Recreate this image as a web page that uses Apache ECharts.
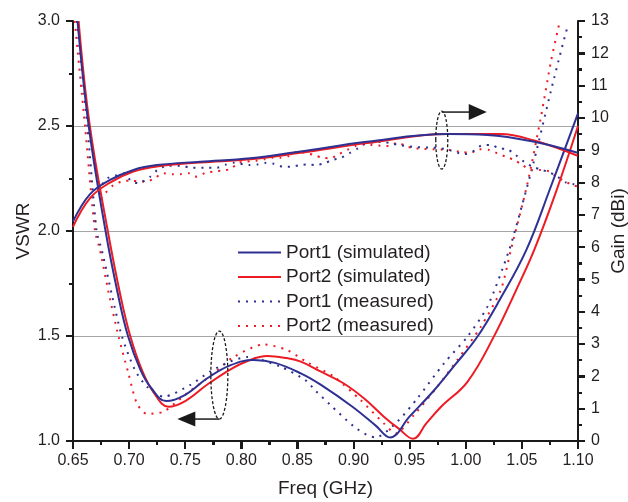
<!DOCTYPE html>
<html><head><meta charset="utf-8">
<script src="https://cdn.jsdelivr.net/npm/echarts@6/dist/echarts.min.js"></script>
<style>html,body{margin:0;padding:0;background:#fff}#c{width:628px;height:502px}</style>
</head><body><div id="c"></div>
<script>
// ---- tick labels / axis settings ----
const xTickStep = 0.05, vswrTickStep = 0.5, gainTickStep = 1;
const seriesNames = ['Port1 (simulated)','Port2 (simulated)','Port1 (measured)','Port2 (measured)'];

// ---- VSWR (left axis) ----
const p1SimVswrF = [0.654,0.664,0.679,0.690,0.699,0.710,0.720,0.733,0.750,0.770,0.790,0.811,0.830,0.853,0.871,0.899,0.920,0.9325,0.950,0.972,0.990,1.010,1.030,1.054,1.075,1.100];
const p1SimVswr  = [3.00,2.50,2.00,1.70,1.50,1.34,1.25,1.19,1.22,1.30,1.36,1.386,1.372,1.322,1.267,1.163,1.072,1.017,1.117,1.243,1.36,1.494,1.67,1.91,2.20,2.56];

const p2SimVswrF = [0.655,0.665,0.681,0.692,0.701,0.712,0.722,0.735,0.750,0.770,0.790,0.805,0.823,0.840,0.853,0.871,0.891,0.910,0.927,0.940,0.953,0.965,0.978,1.0015,1.025,1.045,1.061,1.080,1.100];
const p2SimVswr  = [3.00,2.50,2.00,1.70,1.50,1.33,1.23,1.163,1.19,1.27,1.34,1.38,1.405,1.395,1.378,1.33,1.275,1.20,1.116,1.06,1.011,1.085,1.163,1.282,1.497,1.72,1.91,2.18,2.50];

const p1MeasVswrF = [0.6535,0.6628,0.671,0.6756,0.6845,0.6935,0.705,0.7158,0.7307,0.7545,0.772,0.790,0.805,0.8348,0.857,0.866,0.8795,0.900,0.912,0.9196,0.939,0.9568,0.9806,1.0015,1.0193,1.0387,1.050,1.061,1.076,1.085,1.091];
const p1MeasVswr  = [3.00,2.50,2.00,1.91,1.70,1.50,1.34,1.259,1.211,1.267,1.33,1.378,1.40,1.354,1.29,1.24,1.171,1.07,1.029,1.017,1.092,1.203,1.37,1.497,1.64,1.91,2.12,2.338,2.67,2.86,2.98];

const p2MeasVswrF = [0.6515,0.6607,0.6696,0.674,0.682,0.6905,0.6994,0.7069,0.7158,0.7307,0.7515,0.7753,0.7931,0.820,0.8408,0.8586,0.8825,0.9062,0.927,0.9375,0.9538,0.9747,0.9925,1.0134,1.0312,1.0402,1.055,1.067,1.076,1.082,1.0835];
const p2MeasVswr  = [3.00,2.50,2.00,1.91,1.70,1.50,1.322,1.179,1.129,1.14,1.227,1.322,1.40,1.46,1.433,1.375,1.306,1.195,1.084,1.036,1.124,1.259,1.386,1.544,1.719,1.91,2.227,2.544,2.81,2.957,2.99];

// ---- Gain (right axis, dBi) ----
const p1SimGainF = [0.650,0.6652,0.683,0.7038,0.7247,0.7634,0.808,0.8527,0.912,0.9836,1.0193,1.061,1.0997];
const p1SimGain  = [6.79,7.64,8.08,8.39,8.54,8.645,8.75,8.96,9.26,9.50,9.47,9.26,8.92];

const p2SimGainF = [0.650,0.6652,0.683,0.7038,0.7247,0.7634,0.808,0.8527,0.912,0.9836,1.031,1.061,1.0997];
const p2SimGain  = [6.63,7.52,8.00,8.34,8.50,8.62,8.72,8.92,9.22,9.50,9.50,9.30,8.83];

const p1MeasGainF = [0.672,0.6756,0.6806,0.6875,0.6949,0.7024,0.7083,0.7188,0.7253,0.7337,0.7471,0.7545,0.7694,0.7783,0.7857,0.7931,0.8072,0.8146,0.8221,0.8295,0.8369,0.8444,0.8518,0.8592,0.8667,0.8741,0.8816,0.8891,0.8965,0.9039,0.9108,0.9257,0.9337,0.9405,0.955,0.970,0.9777,0.985,0.9926,0.9985,1.006,1.015,1.0223,1.0298,1.0372,1.0446,1.052,1.0595,1.067,1.0743,1.0817,1.0893,1.0967];
const p1MeasGain  = [7.75,7.92,8.13,8.21,8.29,8.03,7.98,8.18,8.39,8.52,8.52,8.46,8.46,8.46,8.55,8.61,8.54,8.56,8.61,8.58,8.49,8.49,8.54,8.56,8.54,8.60,8.70,8.77,8.91,9.06,9.21,9.26,9.21,9.16,9.10,9.08,9.06,9.01,8.92,8.88,8.95,9.16,9.16,9.06,9.03,8.85,8.64,8.49,8.40,8.32,8.18,8.00,7.95];

const p2MeasGainF = [0.675,0.6786,0.686,0.6935,0.7009,0.7098,0.7158,0.7232,0.7306,0.7381,0.7455,0.753,0.7604,0.7679,0.7753,0.7828,0.7902,0.7976,0.8051,0.8125,0.820,0.8274,0.8349,0.8423,0.8498,0.8572,0.8646,0.8721,0.8795,0.8869,0.8944,0.9018,0.9092,0.9167,0.9241,0.9316,0.9391,0.948,0.9554,0.9628,0.9703,0.985,0.995,1.0045,1.0119,1.0209,1.0283,1.0357,1.0432,1.0506,1.058,1.067,1.0744,1.082,1.089,1.095,1.100];
const p2MeasGain  = [7.50,7.67,7.92,8.03,8.06,8.03,8.03,8.15,8.29,8.26,8.26,8.29,8.18,8.30,8.34,8.37,8.42,8.61,8.65,8.67,8.72,8.77,8.77,8.82,8.95,8.92,8.85,8.77,8.75,8.88,9.01,9.13,9.18,9.16,9.14,9.13,9.23,9.11,9.06,9.04,9.03,9.01,8.95,8.92,9.03,9.01,8.90,8.80,8.70,8.54,8.39,8.39,8.34,8.15,8.03,7.92,7.88];

const zip = (f, v) => f.map((x, i) => [x, v[i]]);
const BLUE = '#2E3192', RED = '#ED1C24', INK = '#1a1a1a', TXT = '#231f20';
const FONT = 'Liberation Sans, Arial, Helvetica, sans-serif';
const dotted = [2, 6];
const X_MIN = 0.65, X_MAX = 1.10, V_MIN = 1.0, V_MAX = 3.0, G_MIN = 0, G_MAX = 13;

function line(name, color, data, yIdx, isDotted) {
  return {
    name, type: 'line', yAxisIndex: yIdx, data,
    symbol: 'none', showSymbol: false,
    smooth: isDotted ? 0.25 : 0.4,
    lineStyle: { color, width: 2, type: isDotted ? dotted : 'solid', cap: 'butt' },
    itemStyle: { color }, emphasis: { disabled: true }, animation: false
  };
}

const tickCommon = { show: true, length: 7, lineStyle: { color: INK, width: 2 } };
const minorCommon = { show: true, splitNumber: 2, length: 4, lineStyle: { color: INK, width: 2 } };
const axisLineStyle = { color: INK, width: 2 };
const nameStyle = { fontFamily: FONT, fontSize: 19, color: TXT };

const chart = echarts.init(document.getElementById('c'), null, { renderer: 'canvas' });
chart.setOption({
  backgroundColor: '#ffffff',
  animation: false,
  textStyle: { fontFamily: FONT },
  grid: { left: 73, right: 50, top: 21, bottom: 61, containLabel: false, outerBoundsMode: 'none' },
  legend: {
    orient: 'vertical', left: 232, top: 238, itemWidth: 43, itemHeight: 14, itemGap: 5.5,
    data: seriesNames, selectedMode: false,
    itemStyle: { color: 'rgba(0,0,0,0)', borderColor: 'rgba(0,0,0,0)', borderWidth: 0 },
    textStyle: { fontFamily: FONT, fontSize: 19, color: TXT }
  },
  xAxis: {
    type: 'value', min: X_MIN, max: X_MAX, interval: xTickStep,
    name: 'Freq (GHz)', nameLocation: 'middle', nameGap: 38, nameMoveOverlap: false,
    nameTextStyle: nameStyle,
    axisLine: { show: true, onZero: false, lineStyle: axisLineStyle },
    axisTick: Object.assign({}, tickCommon, { length: 8 }),
    minorTick: minorCommon,
    axisLabel: { margin: 12, fontSize: 16, color: TXT, fontFamily: FONT, formatter: v => v.toFixed(2) },
    splitLine: { show: false }
  },
  yAxis: [{
    type: 'value', min: V_MIN, max: V_MAX, interval: vswrTickStep, position: 'left',
    name: 'VSWR', nameLocation: 'middle', nameGap: 40, nameRotate: 90, nameMoveOverlap: false,
    nameTextStyle: nameStyle,
    axisLine: { show: true, onZero: false, lineStyle: axisLineStyle },
    axisTick: tickCommon, minorTick: minorCommon,
    axisLabel: { margin: 13, fontSize: 16, color: TXT, fontFamily: FONT, formatter: v => v.toFixed(1) },
    splitLine: { show: true, lineStyle: { color: ['rgba(0,0,0,0)', '#a6a6a6', '#a6a6a6', '#a6a6a6', 'rgba(0,0,0,0)'], width: 1.2 } }
  }, {
    type: 'value', min: G_MIN, max: G_MAX, interval: gainTickStep, position: 'right',
    name: 'Gain (dBi)', nameLocation: 'middle', nameGap: 31, nameRotate: 90, nameMoveOverlap: false,
    nameTextStyle: nameStyle,
    axisLine: { show: true, onZero: false, lineStyle: axisLineStyle },
    axisTick: tickCommon, minorTick: minorCommon,
    axisLabel: { margin: 13, fontSize: 16, color: TXT, fontFamily: FONT },
    splitLine: { show: false }
  }],
  series: [
    line(seriesNames[3], RED, zip(p2MeasVswrF, p2MeasVswr), 0, true),
    line(seriesNames[2], BLUE, zip(p1MeasVswrF, p1MeasVswr), 0, true),
    line(seriesNames[3], RED, zip(p2MeasGainF, p2MeasGain), 1, true),
    line(seriesNames[2], BLUE, zip(p1MeasGainF, p1MeasGain), 1, true),
    line(seriesNames[1], RED, zip(p2SimVswrF, p2SimVswr), 0, false),
    line(seriesNames[0], BLUE, zip(p1SimVswrF, p1SimVswr), 0, false),
    line(seriesNames[1], RED, zip(p2SimGainF, p2SimGain), 1, false),
    line(seriesNames[0], BLUE, zip(p1SimGainF, p1SimGain), 1, false)
  ]
});

// ---- tick marks (through the axes' own scales) + annotations ----
const gfx = [];
const toPx = (x, y, yi) => chart.convertToPixel({ xAxisIndex: 0, yAxisIndex: yi }, [x, y]);
const tick = (x1, y1, x2, y2) => gfx.push({ type: 'line', silent: true, z: 50,
  shape: { x1, y1, x2, y2 }, style: { stroke: INK, lineWidth: 2 } });
for (let i = 0; i <= Math.round((X_MAX - X_MIN) / xTickStep) * 2; i++) {
  const p = toPx(X_MIN + i * xTickStep / 2, V_MIN, 0);
  const len = i % 2 === 0 ? 8 : 4;
  tick(Math.round(p[0]), p[1], Math.round(p[0]), p[1] + len);
}
for (let i = 0; i <= Math.round((V_MAX - V_MIN) / vswrTickStep) * 2; i++) {
  const p = toPx(X_MIN, V_MIN + i * vswrTickStep / 2, 0);
  const len = i % 2 === 0 ? 7 : 4;
  tick(p[0], Math.round(p[1]), p[0] - len, Math.round(p[1]));
}
for (let i = 0; i <= Math.round((G_MAX - G_MIN) / gainTickStep) * 2; i++) {
  const p = toPx(X_MAX, G_MIN + i * gainTickStep / 2, 1);
  const len = i % 2 === 0 ? 7 : 4;
  tick(p[0], Math.round(p[1]), p[0] + len, Math.round(p[1]));
}
const rA = toPx(0.9786, 2.433, 0);
const lA = toPx(0.7804, 1.314, 0);
const dash = { fill: 'none', stroke: INK, lineWidth: 1.3, lineDash: [3, 2] };
gfx.push(
  { type: 'ellipse', z: 100, shape: { cx: rA[0], cy: rA[1], rx: 6, ry: 29 }, style: dash },
  { type: 'line', z: 100, shape: { x1: rA[0], y1: rA[1] - 28, x2: rA[0] + 29, y2: rA[1] - 28 }, style: { stroke: INK, lineWidth: 1.5 } },
  { type: 'polygon', z: 100, shape: { points: [[rA[0] + 27, rA[1] - 36], [rA[0] + 27, rA[1] - 20], [rA[0] + 45, rA[1] - 28]] }, style: { fill: INK } },
  { type: 'ellipse', z: 100, shape: { cx: lA[0], cy: lA[1], rx: 8.5, ry: 44 }, style: dash },
  { type: 'line', z: 100, shape: { x1: lA[0], y1: lA[1] + 44, x2: lA[0] - 26, y2: lA[1] + 44 }, style: { stroke: INK, lineWidth: 1.5 } },
  { type: 'polygon', z: 100, shape: { points: [[lA[0] - 24, lA[1] + 36.5], [lA[0] - 24, lA[1] + 51.5], [lA[0] - 42, lA[1] + 44]] }, style: { fill: INK } }
);
chart.setOption({ graphic: gfx });
</script>
</body></html>
